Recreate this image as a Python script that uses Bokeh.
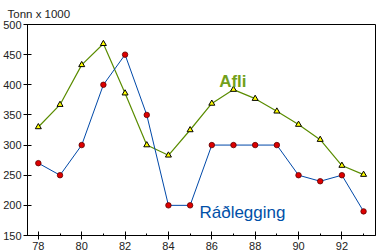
from bokeh.plotting import figure
from bokeh.models import SingleIntervalTicker, Range1d, Label
from bokeh.embed import file_html
from bokeh.resources import INLINE

years = [78, 79, 80, 81, 82, 83, 84, 85, 86, 87, 88, 89, 90, 91, 92, 93]
afli = [330, 367, 433, 468, 386, 300, 283, 325, 369, 392, 377, 356, 334, 309, 266, 251]
radlegging = [270, 250, 300, 400, 450, 350, 200, 200, 300, 300, 300, 300, 250, 240, 250, 190]

FONT = "Liberation Sans"

p = figure(width=377, height=252, output_backend="svg", toolbar_location=None,
           x_range=Range1d(77.5, 93.55), y_range=Range1d(150, 500),
           min_border_left=23, min_border_right=2, min_border_top=24, min_border_bottom=17)

p.title.text = "Tonn x 1000"
p.title.text_font = FONT
p.title.text_font_size = "11.5px"
p.title.text_font_style = "normal"
p.title.text_color = "#222222"
p.title.align = "left"
p.title.offset = -20

p.xgrid.visible = False
p.ygrid.visible = False
p.outline_line_color = "black"
p.outline_line_width = 1

p.xaxis.ticker = SingleIntervalTicker(interval=2, num_minor_ticks=2)
p.yaxis.ticker = SingleIntervalTicker(interval=50, num_minor_ticks=0)
for ax in (p.xaxis, p.yaxis):
    ax.axis_line_color = "black"
    ax.major_tick_line_color = "black"
    ax.major_tick_in = 4
    ax.major_tick_out = 4
    ax.major_label_text_font = FONT
    ax.major_label_text_font_size = "11px"
    ax.major_label_text_color = "#222222"
    ax.major_label_standoff = 2
p.xaxis.minor_tick_in = 2
p.xaxis.minor_tick_out = 0
p.xaxis.minor_tick_line_color = "black"
p.yaxis.minor_tick_line_color = None

p.line(years, afli, line_color="#5a8c00", line_width=1.2)
p.scatter(years, afli, marker="triangle", size=6, fill_color="#ffff00", line_color="black", line_width=1)

p.line(years, radlegging, line_color="#0048a8", line_width=1)
p.scatter(years, radlegging, marker="circle", size=5.5, fill_color="#dd0000", line_color="#600000", line_width=0.8)

p.add_layout(Label(x=86.34, y=405, text="Afli", text_font=FONT, text_font_size="17px",
                   text_font_style="bold", text_color="#72a01a", text_baseline="alphabetic"))
p.add_layout(Label(x=85.43, y=188, text="Ráðlegging", text_font=FONT, text_font_size="17px",
                   text_color="#0050a8", text_baseline="alphabetic"))

open("out.html", "w").write(file_html(p, INLINE))
